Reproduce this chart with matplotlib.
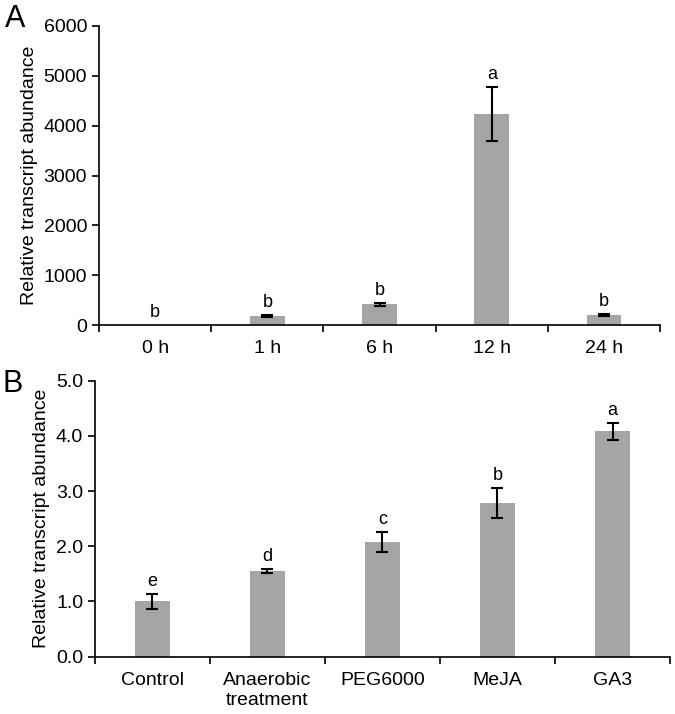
import numpy as np
import matplotlib.pyplot as plt

plt.rcParams['font.family'] = ['Liberation Sans', 'DejaVu Sans']

# panel A: time course
times = ['0 h', '1 h', '6 h', '12 h', '24 h']
time_vals = [1, 180, 420, 4235, 200]
time_err = [0, 20, 30, 545, 15]
time_letters = ['b', 'b', 'b', 'a', 'b']

# panel B: treatments
treats = ['Control', 'Anaerobic\ntreatment', 'PEG6000', 'MeJA', 'GA3']
treat_vals = [1.0, 1.55, 2.08, 2.78, 4.08]
treat_err = [0.14, 0.03, 0.18, 0.27, 0.16]
treat_letters = ['e', 'd', 'c', 'b', 'a']

bar_color = '#a5a5a5'
fs = 14


def draw(ax, cats, vals, errs, letters, ymax, ystep, fmt):
    x = np.arange(len(cats))
    ax.bar(x, vals, width=0.31, color=bar_color, edgecolor='none')
    # skip error bars that are zero (nothing drawn in the original)
    m = np.array(errs) > 0
    ax.errorbar(x[m], np.array(vals)[m], yerr=np.array(errs)[m], fmt='none',
                ecolor='black', elinewidth=1.5, capsize=4, capthick=1.5)
    for xi, v, e, l in zip(x, vals, errs, letters):
        ax.annotate(l, (xi, v + e), xytext=(0, 9), textcoords='offset points',
                    ha='center', va='center', fontsize=fs - 1)
    ax.set_xlim(-0.5, len(cats) - 0.5)
    ax.set_ylim(0, ymax)
    yt = np.arange(0, ymax + ystep / 2, ystep)
    ax.set_yticks(yt)
    ax.set_yticklabels([fmt.format(t) for t in yt], fontsize=fs)
    ax.set_xticks(x)
    ax.set_xticklabels(cats, fontsize=fs)
    ax.set_xticks(np.arange(-0.5, len(cats)), minor=True)
    ax.tick_params(axis='x', which='major', length=0, pad=11)
    ax.tick_params(axis='x', which='minor', length=5, width=1.2, direction='out')
    ax.tick_params(axis='y', length=5, width=1.2, direction='out')
    ax.spines['top'].set_visible(False)
    ax.spines['right'].set_visible(False)
    ax.spines['left'].set_linewidth(1.2)
    ax.spines['bottom'].set_linewidth(1.2)
    ax.set_ylabel('Relative transcript abundance', fontsize=fs)


fig = plt.figure(figsize=(6.75, 7.14), dpi=100)
axA = fig.add_axes([0.1467, 0.5448, 0.8313, 0.4188])
axB = fig.add_axes([0.1407, 0.0803, 0.8519, 0.3865])

draw(axA, times, time_vals, time_err, time_letters, 6000, 1000, '{:.0f}')
draw(axB, treats, treat_vals, treat_err, treat_letters, 5.0, 1.0, '{:.1f}')

fig.text(0.022, 0.973, 'A', fontsize=22, ha='center', va='center')
fig.text(0.018, 0.462, 'B', fontsize=22, ha='center', va='center')

fig.savefig('out.png', dpi=100)
